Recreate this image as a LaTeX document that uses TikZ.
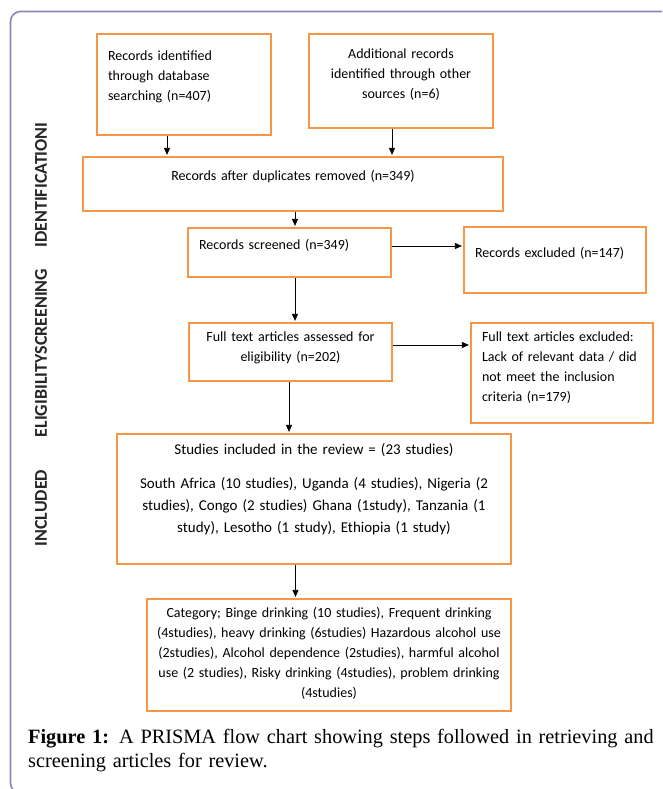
\documentclass[tikz,border=0pt]{standalone}
\usepackage{fontspec}
\usepackage{xcolor}
\usepackage{tikz}
\usetikzlibrary{arrows.meta,positioning}
\newfontfamily\flowfont{Carlito}
\newfontfamily\captionfont{Liberation Serif}
\definecolor{boxorange}{HTML}{F79646}
\definecolor{framepurple}{HTML}{8C86B4}
\newcommand\boxgap[1]{\endgraf\vspace*{#1}}

\begin{document}
\begin{tikzpicture}[x=1pt,y=-1pt,
    flowbox/.style={draw=boxorange,line width=2.2pt,inner xsep=11pt,inner ysep=2pt,
      font=\flowfont\fontsize{14}{20}\selectfont,text=black},
    lift/.style={execute at end node={\boxgap{#1}}},
    stagelabel/.style={rotate=90,inner sep=0pt,font=\flowfont\bfseries\fontsize{18}{20}\selectfont,text=black!85},
    flowarrow/.style={-{Triangle[length=7pt,width=6pt]},line width=0.8pt,shorten >=1pt}]
    \useasboundingbox (0,0) rectangle (662,789);
    % Frame
    \begin{scope}
      \clip (0,0) rectangle (662,789);
      \draw[framepurple,line width=1.6pt,rounded corners=10pt] (10.5,11.5) rectangle (690,793);
    \end{scope}
    % Stage labels
    \node[stagelabel] (ident) at (41,185) {IDENTIFICATIONI};
    \node[stagelabel] (elig) at (41,353) {ELIGIBILITYSCREENING};
    \node[stagelabel] (incl) at (41,508) {INCLUDED};
    % Identification
    \node[flowbox,align=left,text width=152pt,minimum height=101pt,lift=15pt] (database) at (184,84.5)
      {Records identified\\through database\\searching (n=407)};
    \node[flowbox,align=center,text width=162pt,minimum height=94pt,lift=13pt] (other) at (401,81)
      {Additional records\\identified through other\\sources (n=6)};
    \node[flowbox,align=center,text width=398pt,minimum height=54pt,lift=14pt] (duplicates) at (293,184)
      {Records after duplicates removed (n=349)};
    % Screening
    \node[flowbox,align=left,text width=181pt,minimum height=49pt,lift=14pt] (screened) at (289.5,252.5)
      {Records screened (n=349)};
    \node[flowbox,align=left,text width=160pt,minimum height=66pt,lift=13pt] (excluded) at (555,260)
      {Records excluded (n=147)};
    % Eligibility
    \node[flowbox,align=center,text width=181pt,minimum height=58pt,lift=8pt] (assessed) at (290.5,352)
      {Full text articles assessed for\\eligibility (n=202)};
    \node[flowbox,align=left,text width=160pt,minimum height=100pt,lift=11pt] (fulltextexcl) at (562,373)
      {Full text articles excluded:\\Lack of relevant data / did\\not meet the inclusion\\criteria (n=179)};
    % Included
    \node[flowbox,align=center,text width=372pt,minimum height=130pt,lift=20pt,
      font=\flowfont\fontsize{15}{22}\selectfont] (included) at (314,499)
      {Studies included in the review = (23 studies)\\[12pt]South Africa (10 studies), Uganda (4 studies), Nigeria (2\\studies), Congo (2 studies) Ghana (1study), Tanzania (1\\study), Lesotho (1 study), Ethiopia (1 study)};
    \node[flowbox,align=center,inner xsep=6pt,text width=352pt,minimum height=112pt,lift=4pt] (category) at (329,655)
      {Category; Binge drinking (10 studies), Frequent drinking\\(4studies), heavy drinking (6studies) Hazardous alcohol use\\(2studies), Alcohol dependence (2studies), harmful alcohol\\use (2 studies), Risky drinking (4studies), problem drinking\\(4studies)};
    % Arrows
    \draw[flowarrow] ([xshift=-17pt]database.south) -- ([xshift=-17pt]database.south |- duplicates.north);
    \draw[flowarrow] ([xshift=-9pt]other.south) -- ([xshift=-9pt]other.south |- duplicates.north);
    \draw[flowarrow] ([xshift=2pt]duplicates.south) -- ([xshift=2pt]duplicates.south |- screened.north);
    \draw[flowarrow] ([yshift=6.5pt]screened.east) -- ([yshift=6.5pt]screened.east -| excluded.west);
    \draw[flowarrow] ([xshift=5.5pt]screened.south) -- ([xshift=5.5pt]screened.south |- assessed.north);
    \draw[flowarrow] ([yshift=7pt]assessed.east) -- ([yshift=7pt]assessed.east -| fulltextexcl.west);
    \draw[flowarrow] ([xshift=-1.5pt]assessed.south) -- ([xshift=-1.5pt]assessed.south |- included.north);
    \draw[flowarrow] ([xshift=-18.5pt]included.south) -- ([xshift=-18.5pt]included.south |- category.north);
    % Caption
    \node[anchor=north west,inner sep=0pt,text width=630pt,align=left,
      font=\captionfont\fontsize{20.3}{24}\selectfont] (caption) at (28,729)
      {\textbf{Figure 1:} A PRISMA flow chart showing steps followed in retrieving and\\screening articles for review.};
\end{tikzpicture}
\end{document}
